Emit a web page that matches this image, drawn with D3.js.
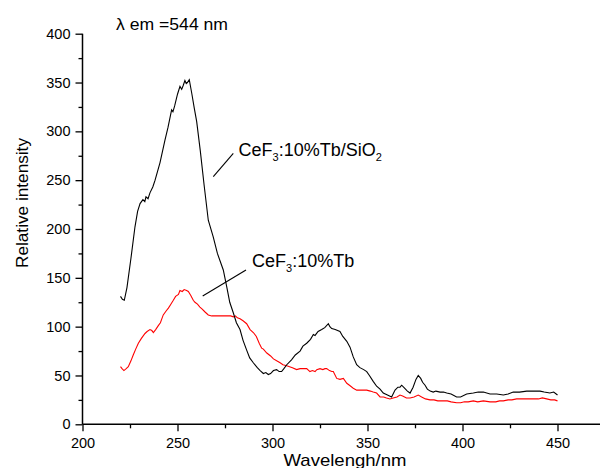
<!DOCTYPE html>
<html><head><meta charset="utf-8">
<script src="https://cdn.jsdelivr.net/npm/d3@7"></script>
<style>
html,body{margin:0;padding:0;background:#fff;}
svg{display:block;font-family:"Liberation Sans",Arial,sans-serif;}
</style></head>
<body><svg id="c" width="600" height="468"></svg>
<script>
// ---- data ----
const blackX = [220,221,222,223.4,225.5,227.6,229,230.3,231.8,232.8,233.4,234.5,235.5,237,238.2,240.8,243.4,245,246.9,247.6,248.5,250,251.3,252.2,253,253.9,254.6,255.2,256.2,257.5,258.8,260.1,262,264,266.2,268.8,271,274.1,276,277.5,279.4,281,282.9,284.5,286.4,288,289.9,292,293.5,295.2,296.5,297.8,299,300.5,302.2,303.5,304.8,306,307.5,310,312,314.5,316,318,320,321.5,322.4,324,325.9,327.5,329.4,330.2,331.2,333,335.5,337,339.1,340.8,342.5,344.3,346,348,349.6,351,353,354.8,356.6,358.3,360.5,362.7,364.5,366,367.1,368,369.5,371,372.4,374,375.5,376.7,378,379,380.3,381.5,383,384.6,386,388.2,390,391.7,394,396.9,399,402.2,405.7,408.3,411,414.5,418,421.5,424,426.7,430,433.8,437,440.8,443,446,448,450];
const blackY = [131,128,127,140,170,202,218,226,230,228,233,231,237,243,250,268,291,304,322,320,326,338,346,343,347,352,349,350,353,339,324,310,280,245,209,192,175,158,140,125,114,104,97,86,76,68,63,58,55,52,53,51,52,55,56,54,54,57,61,66,71,75,80,83,87,92,91,95,97,99,103,100,98,97,95,90,85,79,69,61,58,56,54,50,44,39,36,32,30,28,35,38,38,40,37,34,32,38,46,50,47,43,40,36,34,33,34,33,33,32,31,28,28,31,32,33,33,31,31,30,31,33,33,34,34,34,33,32,33,30];
const redX = [220,220.8,221.8,223,224.1,225.5,226.7,228,229.4,231,232.9,234,235.5,236.5,237.3,238.5,239.9,241,242.5,244,245.2,246.5,247.8,249,250.5,251.3,252.5,253.5,254.8,255.7,257,258.3,259.2,260.5,261.8,263,264.5,266.2,268,270,272,274,276,278,279.4,280.5,281.5,282.9,284.5,286.4,288.2,289.9,291.5,293,294.3,295.2,297,299,300.5,302.2,304,305.5,307.5,309,310.5,312.7,314.5,316,318,319.7,321,322.4,323.3,325,326.5,327.6,328.5,330,331.2,332,333.8,335.5,337.3,339.1,340.5,342.5,344.3,346,348,349.6,351.5,353,354.8,356.6,358.5,360,361.8,363.5,365.5,367.1,368.5,370.5,372.4,374.5,376.7,378.5,380.5,382.9,385,387,389.9,392,394,396.9,399,401,403,405.7,408,411,414.5,417.5,419.5,421.5,424,426,428.5,431,434,437.3,440,442,444.3,446.5,448.5,450];
const redY = [59,57,55,57,59,65,71,77,83,88,93,95,97,96,94,97,101,104,112,116,119,123,127,131,133,137,136,138,137,136,132,127,125,123,120,118,115,112,111,111,111,111,111,111,110,111,109,108,106,103,97,94,90,83,78,77,73,70,67,65,63,61,60,59,58,56,57,57,57,54,55,54,56,57,56,57,57,55,54,54,47,46,47,42,40,37,35,35,35,35,34,33,32,28,28,27,26,27,28,30,29,27,27,28,30,28,26,25,25,24,24,24,23,22,22,23,23,24,23,24,23,23,24,24,25,25,26,26,26,26,26,27,26,25,25,24];
const xTicks = [200,250,300,350,400,450];
const xMinor = [225,275,325,375,425];
const yTicks = [0,50,100,150,200,250,300,350,400];
const yMinor = [25,75,125,175,225,275,325,375];
const titleText = "λ em =544 nm";
const xTitle = "Wavelengh/nm";
const yTitle = "Relative intensity";

// ---- chart ----
const svg = d3.select("#c");
const x = d3.scaleLinear().domain([200,480]).range([82.5,614.5]);
const y = d3.scaleLinear().domain([0,400]).range([424.3,33.7]);

// axes
const xAxisG = svg.append("g").attr("transform","translate(0,424.3)")
  .call(d3.axisBottom(x).tickValues(xTicks).tickSize(7).tickPadding(6).tickFormat(d3.format("d")));
svg.append("g").attr("transform","translate(0,424.3)")
  .call(d3.axisBottom(x).tickValues(xMinor).tickSize(4).tickFormat(""))
  .call(g=>g.select(".domain").remove());
const yAxisG = svg.append("g").attr("transform","translate(82.5,0)")
  .call(d3.axisLeft(y).tickValues(yTicks).tickSize(7).tickPadding(5).tickFormat(d3.format("d")));
svg.append("g").attr("transform","translate(82.5,0)")
  .call(d3.axisLeft(y).tickValues(yMinor).tickSize(4).tickFormat(""))
  .call(g=>g.select(".domain").remove());

svg.selectAll(".domain").attr("stroke","#000").attr("stroke-width",1.5);
svg.selectAll(".tick line").attr("stroke","#000").attr("stroke-width",1.3);
svg.selectAll(".tick text").attr("font-family","Liberation Sans, Arial, sans-serif")
  .attr("font-size","14.5px").attr("fill","#000");
xAxisG.select(".domain").attr("d",`M${x(200)},0H${x(480)}`);
yAxisG.select(".domain").attr("d",`M0,${y(0)}V${y(400)}`);

// lines
const line = d3.line().x(d=>x(d[0])).y(d=>y(d[1]));
const blackData = blackX.map((v,i)=>[v,blackY[i]]);
const redData = redX.map((v,i)=>[v,redY[i]]);
svg.append("path").datum(redData).attr("d",line).attr("fill","none").attr("stroke","#ff0000").attr("stroke-width",1.1);
svg.append("path").datum(blackData).attr("d",line).attr("fill","none").attr("stroke","#000").attr("stroke-width",1.1);

// title
svg.append("text").attr("x",116).attr("y",29.5).attr("font-size","16px")
  .attr("textLength",112).attr("lengthAdjust","spacingAndGlyphs").text(titleText);

// axis titles
svg.append("text").attr("x",345).attr("y",465.5).attr("text-anchor","middle").attr("font-size","17px")
  .attr("textLength",123).attr("lengthAdjust","spacingAndGlyphs").text(xTitle);
svg.append("text").attr("transform","translate(27.5,203) rotate(-90)").attr("text-anchor","middle")
  .attr("font-size","16.5px").attr("textLength",130).attr("lengthAdjust","spacingAndGlyphs").text(yTitle);

// annotations
function label(xp, yp, parts){
  const t = svg.append("text").attr("x",xp).attr("y",yp).attr("font-size","18px");
  parts.forEach(p=>{
    if(p.sub){
      t.append("tspan").attr("font-size","11px").attr("dy",5).text(p.s);
    } else {
      t.append("tspan").attr("dy",p.back?-5:0).text(p.s);
    }
  });
}
label(238.5,155.5,[{s:"CeF"},{s:"3",sub:true},{s:":10%Tb/SiO",back:true},{s:"2",sub:true}]);
label(252,267.3,[{s:"CeF"},{s:"3",sub:true},{s:":10%Tb",back:true}]);
svg.append("line").attr("x1",233.3).attr("y1",153.3).attr("x2",213.3).attr("y2",176.7).attr("stroke","#000").attr("stroke-width",1.1);
svg.append("line").attr("x1",246).attr("y1",270).attr("x2",202.7).attr("y2",296).attr("stroke","#000").attr("stroke-width",1.1);
</script></body></html>
